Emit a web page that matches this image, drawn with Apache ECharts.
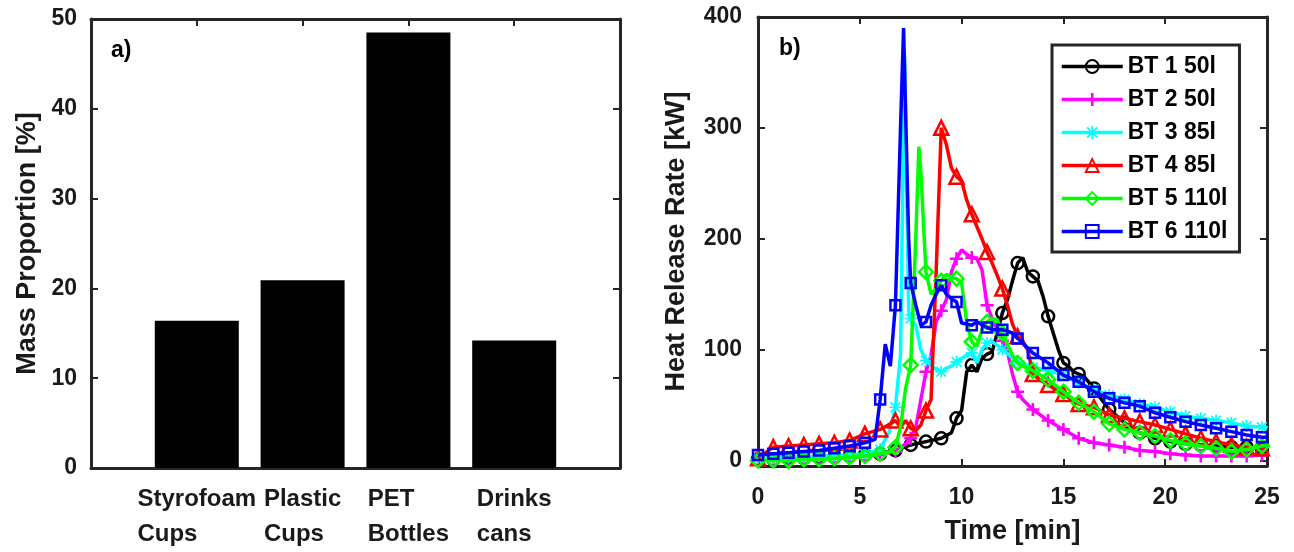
<!DOCTYPE html>
<html><head><meta charset="utf-8">
<script src="https://cdn.jsdelivr.net/npm/echarts@6/dist/echarts.min.js"></script>
<style>html,body{margin:0;padding:0;background:#fff}#c{width:1294px;height:552px}</style>
</head><body><div id="c"></div>
<script>
// ---- Panel a) data ----
const categories = ['Styrofoam Cups', 'Plastic Cups', 'PET Bottles', 'Drinks cans'];
const massProportion = [16.4, 20.9, 48.5, 14.2];
const massTicks = [0, 10, 20, 30, 40, 50];

// ---- Panel b) data: [time (min), HRR (kW)] ----
const seriesNames = ['BT 1 50l', 'BT 2 50l', 'BT 3 85l', 'BT 4 85l', 'BT 5 110l', 'BT 6 110l'];
const hrrTicks = [0, 100, 200, 300, 400];
const timeTicks = [0, 5, 10, 15, 20, 25];

const bt1 = [[0,1],[0.75,1],[1.5,2],[2.25,2],[3,3],[3.75,3],[4.5,4],[5.25,5],[6,6],[6.75,9],[7.5,14],[8.25,17],[9,20],[9.5,25],[9.75,38],[10,45],[10.25,80],[10.5,86],[10.75,80],[11,92],[11.25,96],[11.5,98],[11.75,115],[12,133],[12.25,145],[12.5,162],[12.75,178],[13,183],[13.25,170],[13.5,166],[13.75,162],[14,148],[14.25,130],[14.5,115],[14.75,100],[15,88],[15.25,85],[15.5,80],[15.75,78],[16,76],[16.5,65],[16.75,58],[17,52],[17.25,46],[17.5,42],[18,34],[18.75,25],[19.5,20],[20.25,17],[21,15],[21.75,14],[22.5,13],[23.25,12],[24,12],[24.75,11],[25,11]];
const bt2 = [[0,1],[0.75,1],[1.5,1],[2.25,2],[3,2],[3.75,2],[4.5,3],[5.25,4],[6,5],[6.75,8],[7.25,15],[7.5,20],[7.75,30],[8,55],[8.25,80],[8.5,95],[8.75,125],[9,135],[9.25,145],[9.5,170],[9.75,182],[10,190],[10.25,186],[10.5,183],[10.75,182],[11,172],[11.25,140],[11.5,128],[11.75,118],[12,108],[12.25,98],[12.5,78],[12.75,62],[13,55],[13.5,46],[14.25,36],[15,28],[15.75,20],[16.5,16],[17.25,14],[18,12],[18.75,9],[19.5,8],[20.25,6],[21,5],[21.75,4],[22.5,4],[23.25,4],[24,4],[24.75,5],[25,5]];
const bt3 = [[0,2],[0.75,2],[1.5,3],[2.25,3],[3,4],[3.75,4],[4.5,5],[5.25,6],[6,10],[6.5,28],[6.75,48],[7,95],[7.2,365],[7.4,135],[7.5,128],[7.75,122],[8,100],[8.25,90],[8.5,86],[8.75,82],[9,80],[9.25,83],[9.5,85],[9.75,89],[10,92],[10.25,95],[10.5,97],[10.75,88],[11,100],[11.25,106],[11.5,107],[11.75,104],[12,100],[12.75,89],[13.5,84],[14.25,81],[15,77],[15.75,70],[16.5,64],[17.25,59],[18,55],[18.75,51],[19.5,48],[20.25,44],[21,40],[21.75,38],[22.5,36],[23.25,34],[24,31],[24.75,30],[25,29]];
const bt4 = [[0,2],[0.75,12],[1.5,13],[2.25,14],[3,15],[3.75,16],[4.5,18],[5.25,24],[6,28],[6.5,33],[6.75,36],[7,30],[7.25,36],[7.5,29],[7.75,27],[8,32],[8.25,45],[8.5,55],[8.75,170],[9,300],[9.25,285],[9.5,264],[9.75,256],[10,252],[10.25,235],[10.5,222],[10.75,211],[11,200],[11.25,188],[11.5,178],[11.75,167],[12,155],[12.25,140],[12.5,123],[12.75,112],[13,106],[13.25,100],[13.5,78],[13.75,74],[14.25,68],[15,60],[15.75,51],[16.5,48],[17.25,41],[18,38],[18.75,35],[19.5,32],[20.25,28],[21,24],[21.75,20],[22.5,17],[23.25,14],[24,12],[24.75,11],[25,11]];
const bt5 = [[0,0],[0.75,0],[1.5,0],[2.25,1],[3,1],[3.75,2],[4.5,3],[5.25,4],[6,6],[6.5,8],[6.75,12],[7,30],[7.25,65],[7.5,86],[7.75,200],[7.9,283],[8,260],[8.25,170],[8.5,150],[8.75,155],[9,162],[9.25,168],[9.5,165],[9.75,164],[10,160],[10.25,125],[10.5,107],[10.75,103],[11,118],[11.25,125],[11.5,128],[11.75,127],[12,115],[12.25,105],[12.5,95],[12.75,88],[13,85],[13.5,81],[14.25,73],[15,62],[15.75,52],[16.5,44],[17.25,33],[18,28],[18.75,25],[19.5,22],[20.25,18],[21,15],[21.75,13],[22.5,11],[23.25,8],[24,10],[24.75,13],[25,14]];
const bt6 = [[0,5],[0.75,6],[1.5,7],[2.25,8],[3,9],[3.75,11],[4.5,13],[5.25,16],[5.75,19],[6,55],[6.25,105],[6.5,85],[6.75,140],[7,300],[7.15,390],[7.4,200],[7.5,160],[7.75,140],[8,122],[8.25,125],[8.5,140],[8.75,150],[9,158],[9.25,150],[9.5,146],[9.75,143],[10,124],[10.5,122],[10.75,125],[11.25,120],[11.5,118],[12,118],[12.5,115],[12.75,110],[13,106],[13.5,97],[14.25,88],[15,77],[15.75,71],[16.5,62],[17.25,56],[18,52],[18.75,49],[19.5,43],[20.25,39],[21,35],[21.75,32],[22.5,29],[23.25,26],[24,23],[24.75,21],[25,21]];

// ---- styling ----
const AX = '#262626';
const TXT = '#1a1a1a';
const FONT = '"Liberation Sans", Arial, sans-serif';
const PLUS = 'path://M4,0H6V4H10V6H6V10H4V6H0V4H4Z';
const STAR = 'path://M4.3,0H5.7V4.3H10V5.7H5.7V10H4.3V5.7H0V4.3H4.3Z M1.5,0.5L5,4L8.5,0.5L9.5,1.5L6,5L9.5,8.5L8.5,9.5L5,6L1.5,9.5L0.5,8.5L4,5L0.5,1.5Z';
const styles = [
  {color:'#000000', symbol:'circle',   size:12, hollow:true},
  {color:'#ff00ff', symbol:PLUS,       size:13, hollow:false},
  {color:'#00ffff', symbol:STAR,       size:12, hollow:false},
  {color:'#ff0000', symbol:'triangle', size:14, hollow:true},
  {color:'#00ff00', symbol:'diamond',  size:14, hollow:true},
  {color:'#0000ff', symbol:'rect',     size:10, hollow:true}
];
const hrrData = [bt1, bt2, bt3, bt4, bt5, bt6];
const MARK_STEP = 0.75;
function withMarkers(pairs) {
  return pairs.map(function (p) {
    const k = p[0] / MARK_STEP;
    return Math.abs(k - Math.round(k)) < 1e-6 ? p : {value: p, symbol: 'none'};
  });
}

const tickLabel = {fontFamily: FONT, fontWeight: 'bold', fontSize: 23, color: TXT};
const axLine = {show: true, onZero: false, lineStyle: {color: AX, width: 3}};
const tickIn = {show: true, inside: true, length: 7, lineStyle: {color: AX, width: 2}};
const nameStyle = {fontFamily: FONT, fontWeight: 'bold', fontSize: 27, color: TXT};

function mirrorAxis(extra) {
  return Object.assign({
    type: 'value', axisLine: axLine, axisTick: tickIn,
    axisLabel: {show: false}, splitLine: {show: false}
  }, extra);
}

const option = {
  animation: false,
  backgroundColor: '#ffffff',
  grid: [
    {left: 91, top: 19, width: 529, height: 453},
    {left: 758, top: 17, width: 509, height: 449}
  ],
  xAxis: [
    {gridIndex: 0, type: 'value', min: 0, max: categories.length + 1, interval: 1, position: 'bottom',
     axisLine: axLine, axisTick: tickIn, splitLine: {show: false},
     axisLabel: {margin: 14, fontFamily: FONT, fontWeight: 'bold', fontSize: 24, color: TXT, lineHeight: 35,
       formatter: function (v) {
         const c = categories[v - 1];
         if (!c) return '';
         return c.split(' ').map(function (s) { return '{l|' + s + '}'; }).join('\n');
       },
       rich: {l: {align: 'left', fontFamily: FONT, fontWeight: 'bold', fontSize: 24, color: TXT, lineHeight: 35}}
     }},
    mirrorAxis({gridIndex: 0, min: 0, max: categories.length + 1, interval: 1, position: 'top'}),
    {gridIndex: 1, type: 'value', min: timeTicks[0], max: timeTicks[timeTicks.length - 1], interval: 5, position: 'bottom',
     axisLine: axLine, axisTick: tickIn, splitLine: {show: false},
     axisLabel: Object.assign({margin: 20}, tickLabel),
     name: 'Time [min]', nameLocation: 'middle', nameGap: 52, nameTextStyle: nameStyle},
    mirrorAxis({gridIndex: 1, min: timeTicks[0], max: timeTicks[timeTicks.length - 1], interval: 5, position: 'top'})
  ],
  yAxis: [
    {gridIndex: 0, type: 'value', min: massTicks[0], max: massTicks[massTicks.length - 1], interval: 10, position: 'left',
     axisLine: axLine, axisTick: tickIn, splitLine: {show: false},
     axisLabel: Object.assign({margin: 14}, tickLabel),
     name: 'Mass Proportion [%]', nameLocation: 'middle', nameGap: 50, nameTextStyle: nameStyle},
    mirrorAxis({gridIndex: 0, min: massTicks[0], max: massTicks[massTicks.length - 1], interval: 10, position: 'right'}),
    {gridIndex: 1, type: 'value', min: -5, max: 400, position: 'left',
     axisLine: axLine, axisTick: Object.assign({customValues: hrrTicks}, tickIn), splitLine: {show: false},
     axisLabel: Object.assign({margin: 16, customValues: hrrTicks}, tickLabel),
     name: 'Heat Release Rate [kW]', nameLocation: 'middle', nameGap: 68, nameTextStyle: nameStyle},
    mirrorAxis({gridIndex: 1, min: -5, max: 400, position: 'right',
     axisTick: Object.assign({customValues: hrrTicks}, tickIn)})
  ],
  legend: {
    show: true, orient: 'vertical', left: 1052, top: 45,
    data: seriesNames,
    itemWidth: 61, itemHeight: 16, itemGap: 10,
    padding: [10, 12, 9, 8],
    borderColor: AX, borderWidth: 3, backgroundColor: '#ffffff',
    lineStyle: {width: 3.5},
    textStyle: {fontFamily: FONT, fontWeight: 'bold', fontSize: 23, color: '#000', lineHeight: 23}
  },
  graphic: [
    {type: 'text', left: 111, top: 39, style: {text: 'a)', font: 'bold 23px "Liberation Sans"', fill: '#000'}},
    {type: 'text', left: 779, top: 37, style: {text: 'b)', font: 'bold 23px "Liberation Sans"', fill: '#000'}}
  ],
  series: [
    {type: 'bar', xAxisIndex: 0, yAxisIndex: 0, barWidth: 84,
     itemStyle: {color: '#000000'},
     data: massProportion.map(function (v, i) { return [i + 1, v]; })}
  ].concat(hrrData.map(function (d, i) {
    const s = styles[i];
    return {
      type: 'line', name: seriesNames[i], xAxisIndex: 2, yAxisIndex: 2,
      data: withMarkers(d),
      symbol: s.symbol, symbolSize: s.size, showAllSymbol: true,
      lineStyle: {color: s.color, width: 3.5},
      itemStyle: s.hollow ? {color: 'rgba(255,255,255,0)', borderColor: s.color, borderWidth: 2.5}
                          : {color: s.color, borderWidth: 0},
      emphasis: {disabled: true},
      z: 2 + i
    };
  }))
};

const chart = echarts.init(document.getElementById('c'));
chart.setOption(option);
</script>
</body></html>
